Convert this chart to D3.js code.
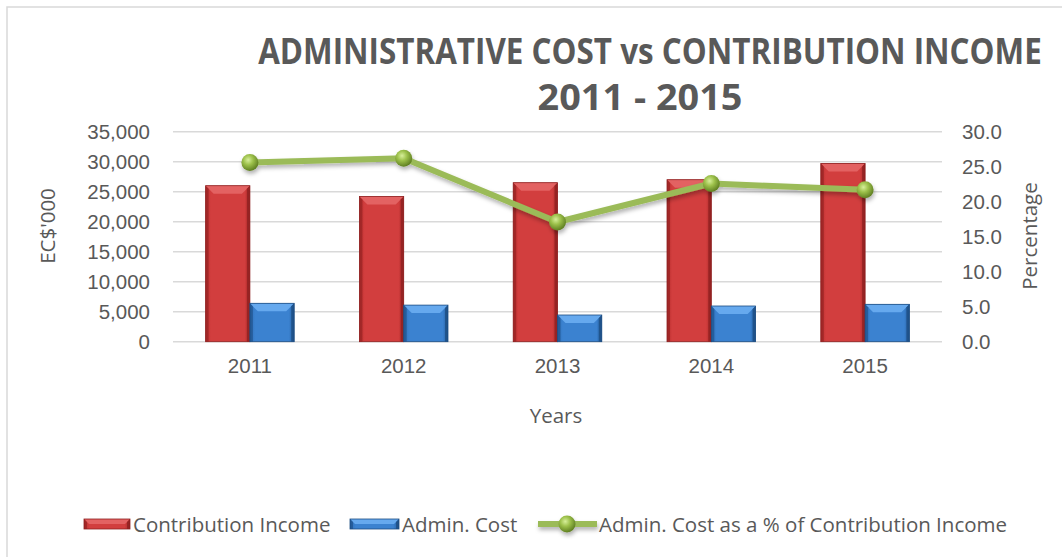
<!DOCTYPE html>
<html>
<head>
<meta charset="utf-8">
<script src="https://cdn.jsdelivr.net/npm/d3@7"></script>
<style>
    body { margin: 0; background: #fff; }
    svg { display: block; font-family: 'Open Sans', sans-serif; }
    .tick text { fill: #595959; font-size: 20.5px; }
</style>
</head>
<body>
<div class="combo-chart-container"></div>
<script>
// Data.
const years = ['2011', '2012', '2013', '2014', '2015'];
const contributionIncome = [26000, 24200, 26500, 27000, 29700];
const adminCost = [6400, 6100, 4450, 5950, 6230];
const adminPct = [25.6, 26.2, 17.1, 22.6, 21.7];
const leftTicks = [0, 5000, 10000, 15000, 20000, 25000, 30000, 35000];
const rightTicks = [0, 5, 10, 15, 20, 25, 30];

const seriesNames = ['Contribution Income', 'Admin. Cost', 'Admin. Cost as a % of Contribution Income'];

const W = 1062, H = 557;
const FONT = 20.5;
const area = {left: 173, right: 942, top: 131.7, bottom: 341.7};

const svg = d3.select('.combo-chart-container')
    .append('svg')
    .attr('width', W)
    .attr('height', H);

const defs = svg.append('defs');

function hGrad(id, stops) {
    const g = defs.append('linearGradient').attr('id', id)
        .attr('x1', 0).attr('y1', 0).attr('x2', 1).attr('y2', 0);
    stops.forEach(s => g.append('stop').attr('offset', s[0]).attr('stop-color', s[1]));
}
hGrad('redBody', [[0, '#b92f2f'], [0.12, '#d23e3e'], [0.88, '#d23e3e'], [1, '#a82828']]);
hGrad('blueBody', [[0, '#2f6fb8'], [0.12, '#3b82d0'], [0.88, '#3b82d0'], [1, '#255d9e']]);

const ball = defs.append('radialGradient').attr('id', 'ball')
    .attr('cx', 0.4).attr('cy', 0.35).attr('r', 0.65);
ball.append('stop').attr('offset', 0).attr('stop-color', '#d7ef9a');
ball.append('stop').attr('offset', 0.45).attr('stop-color', '#9cc04a');
ball.append('stop').attr('offset', 1).attr('stop-color', '#5f7f22');

const shadow = defs.append('filter').attr('id', 'shadow')
    .attr('x', '-20%').attr('y', '-20%').attr('width', '140%').attr('height', '160%');
shadow.append('feDropShadow').attr('dx', 1).attr('dy', 3).attr('stdDeviation', 2)
    .attr('flood-color', '#000').attr('flood-opacity', 0.3);

// Frame
svg.append('rect')
    .attr('x', 7).attr('y', 7)
    .attr('width', W + 10).attr('height', H + 10)
    .attr('fill', 'none')
    .attr('stroke', '#d9d9d9')
    .attr('stroke-width', 1.5);

// Title, squeezed horizontally to match the condensed face of the original
function titleLine(cx, cy, width, t) {
    const g = svg.append('g');
    const txt = g.append('text')
        .attr('text-anchor', 'middle')
        .attr('fill', '#595959')
        .attr('font-size', 36)
        .attr('font-weight', 'bold')
        .text(t);
    const len = txt.node().getComputedTextLength();
    g.attr('transform', `translate(${cx}, ${cy}) scale(${width / len}, 1)`);
}
titleLine(650, 64, 784, 'ADMINISTRATIVE COST vs CONTRIBUTION INCOME');
titleLine(640, 110, 205, '2011 - 2015');

// Scales
const x = d3.scaleBand()
    .domain(years)
    .range([area.left, area.right])
    .padding(0);

const groupWidth = x.bandwidth() * 0.576;
const xSub = d3.scaleBand()
    .domain(['income', 'cost'])
    .range([0, groupWidth]);

const yLeft = d3.scaleLinear()
    .domain([0, 35000])
    .range([area.bottom, area.top]);

const yRight = d3.scaleLinear()
    .domain([0, 30])
    .range([area.bottom, area.top]);

// Gridlines
svg.append('g')
    .selectAll('line')
    .data(leftTicks)
    .enter()
    .append('line')
    .attr('x1', area.left).attr('x2', area.right)
    .attr('y1', d => yLeft(d)).attr('y2', d => yLeft(d))
    .attr('stroke', '#d9d9d9')
    .attr('stroke-width', 1.5);

// Axes
const axisLeft = d3.axisLeft(yLeft)
    .tickValues(leftTicks)
    .tickFormat(d3.format(','))
    .tickSize(0)
    .tickPadding(23);
svg.append('g')
    .attr('transform', `translate(${area.left}, 0)`)
    .call(axisLeft)
    .call(g => g.select('.domain').remove());

const axisRight = d3.axisRight(yRight)
    .tickValues(rightTicks)
    .tickFormat(d3.format('.1f'))
    .tickSize(0)
    .tickPadding(20);
svg.append('g')
    .attr('transform', `translate(${area.right}, 0)`)
    .call(axisRight)
    .call(g => g.select('.domain').remove());

const axisBottom = d3.axisBottom(x)
    .tickSize(0)
    .tickPadding(17);
svg.append('g')
    .attr('transform', `translate(0, ${area.bottom})`)
    .call(axisBottom)
    .call(g => g.select('.domain').remove());

// Axis titles
svg.append('text')
    .attr('transform', `translate(55, 226) rotate(-90)`)
    .attr('text-anchor', 'middle')
    .attr('fill', '#595959')
    .attr('font-size', FONT)
    .text("EC$'000");

svg.append('text')
    .attr('transform', `translate(1037, 236) rotate(-90)`)
    .attr('text-anchor', 'middle')
    .attr('fill', '#595959')
    .attr('font-size', FONT)
    .text('Percentage');

svg.append('text')
    .attr('x', 556).attr('y', 423)
    .attr('text-anchor', 'middle')
    .attr('fill', '#595959')
    .attr('font-size', FONT)
    .text('Years');

// Bevelled bar
function drawBar(g, x0, y0, w, h, body, light, dark) {
    const b = Math.min(8, h / 2);
    const s = 3;
    g.append('rect')
        .attr('x', x0).attr('y', y0).attr('width', w).attr('height', h)
        .attr('fill', body);
    // top bevel
    g.append('polygon')
        .attr('points', [[x0, y0], [x0 + w, y0], [x0 + w - b, y0 + b], [x0 + b, y0 + b]].join(' '))
        .attr('fill', light);
    // side strips
    g.append('polygon')
        .attr('points', [[x0, y0], [x0 + s, y0 + s], [x0 + s, y0 + h], [x0, y0 + h]].join(' '))
        .attr('fill', dark).attr('opacity', 0.6);
    g.append('polygon')
        .attr('points', [[x0 + w, y0], [x0 + w - s, y0 + s], [x0 + w - s, y0 + h], [x0 + w, y0 + h]].join(' '))
        .attr('fill', dark).attr('opacity', 0.8);
    g.append('rect')
        .attr('x', x0).attr('y', y0).attr('width', w).attr('height', h)
        .attr('fill', 'none').attr('stroke', dark).attr('stroke-width', 0.8);
}

const bars = svg.append('g');
years.forEach((yr, i) => {
    const gx = x(yr) + (x.bandwidth() - groupWidth) / 2;
    const g = bars.append('g').attr('class', 'bar');
    drawBar(g, gx + xSub('income'), yLeft(contributionIncome[i]), xSub.bandwidth(),
        yLeft(0) - yLeft(contributionIncome[i]), 'url(#redBody)', '#e36262', '#8e2020');
    drawBar(g, gx + xSub('cost'), yLeft(adminCost[i]), xSub.bandwidth(),
        yLeft(0) - yLeft(adminCost[i]), 'url(#blueBody)', '#66a9ee', '#1d4d82');
});

// Line
const pctData = years.map((yr, i) => ({x: yr, y: adminPct[i]}));
const lineGenerator = d3.line()
    .x(d => x(d.x) + x.bandwidth() / 2)
    .y(d => yRight(d.y));

const lineG = svg.append('g').attr('filter', 'url(#shadow)');
lineG.append('path')
    .datum(pctData)
    .attr('d', lineGenerator)
    .attr('fill', 'none')
    .attr('stroke', '#9bbb59')
    .attr('stroke-width', 6)
    .attr('stroke-linejoin', 'round');
lineG.selectAll('circle')
    .data(pctData)
    .enter()
    .append('circle')
    .attr('cx', d => x(d.x) + x.bandwidth() / 2)
    .attr('cy', d => yRight(d.y))
    .attr('r', 8.5)
    .attr('fill', 'url(#ball)');

// Legend
const legend = svg.append('g').attr('transform', 'translate(0, 524)');
const legendText = (lx, t) => legend.append('text')
    .attr('x', lx).attr('y', 7.5)
    .attr('fill', '#595959')
    .attr('font-size', FONT)
    .text(t);

drawBar(legend.append('g'), 84, -5, 46, 10, 'url(#redBody)', '#e36262', '#8e2020');
legendText(133, seriesNames[0]);
drawBar(legend.append('g'), 350, -5, 49, 10, 'url(#blueBody)', '#66a9ee', '#1d4d82');
legendText(402, seriesNames[1]);
const lg = legend.append('g').attr('filter', 'url(#shadow)');
lg.append('line')
    .attr('x1', 538).attr('x2', 597).attr('y1', 0).attr('y2', 0)
    .attr('stroke', '#9bbb59').attr('stroke-width', 6);
lg.append('circle')
    .attr('cx', 567).attr('cy', 0).attr('r', 8.5)
    .attr('fill', 'url(#ball)');
legendText(599, seriesNames[2]);
</script>
</body>
</html>
